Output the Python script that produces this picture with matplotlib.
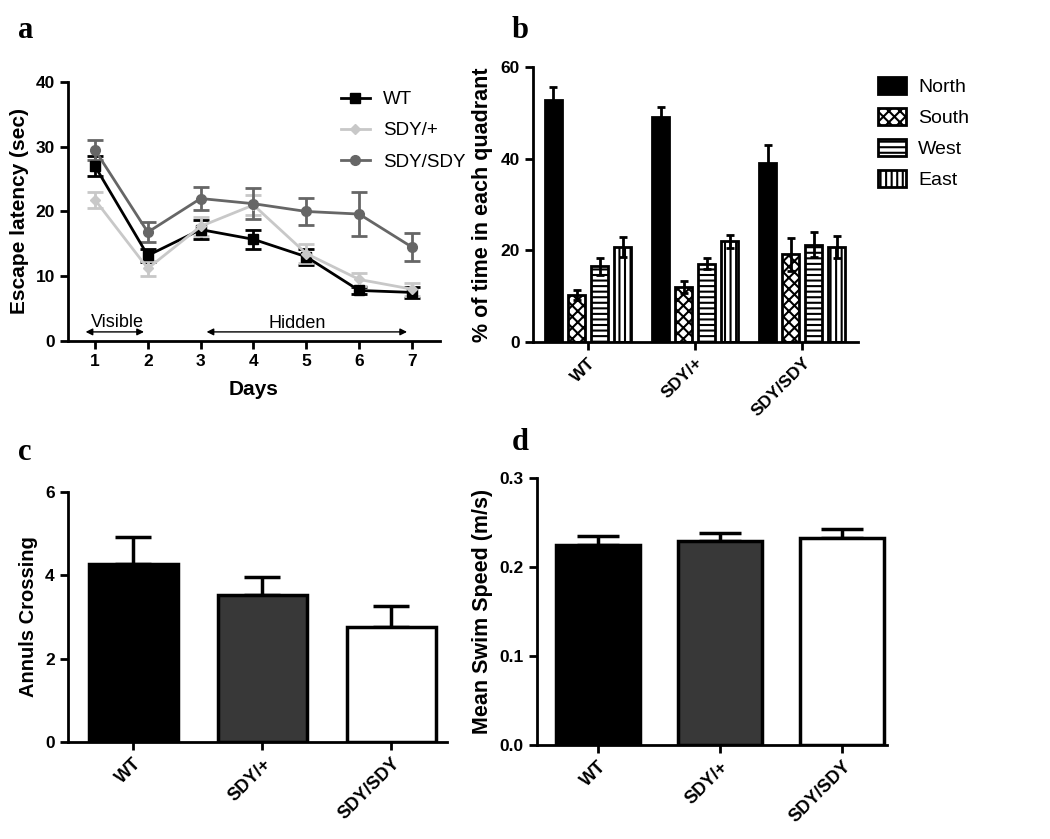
import numpy as np
import matplotlib
matplotlib.use('Agg')
import matplotlib.pyplot as plt

plt.rcParams['font.family'] = ['Liberation Sans', 'DejaVu Sans']
plt.rcParams['hatch.linewidth'] = 1.5

# panel a: escape latency over days
days = [1, 2, 3, 4, 5, 6, 7]
wt_lat = [27.0, 13.2, 17.2, 15.7, 13.0, 7.8, 7.5]
wt_lat_err = [1.5, 1.0, 1.5, 1.5, 1.2, 0.5, 0.8]
het_lat = [21.8, 11.2, 17.7, 21.0, 13.5, 9.5, 8.0]
het_lat_err = [1.2, 1.2, 1.5, 1.5, 1.5, 1.0, 1.0]
hom_lat = [29.5, 16.8, 22.0, 21.2, 20.0, 19.6, 14.5]
hom_lat_err = [1.5, 1.5, 1.8, 2.4, 2.1, 3.4, 2.2]

# panel b: quadrant time
genotypes = ['WT', 'SDY/+', 'SDY/SDY']
quadrants = ['North', 'South', 'West', 'East']
quad_time = {
    'North': [52.8, 49.1, 39.1],
    'South': [10.2, 12.0, 19.1],
    'West': [16.5, 17.1, 21.2],
    'East': [20.7, 22.0, 20.7],
}
quad_err = {
    'North': [2.8, 2.2, 3.8],
    'South': [1.1, 1.3, 3.6],
    'West': [1.8, 1.2, 2.7],
    'East': [2.2, 1.4, 2.4],
}

# panel c: annulus crossings
crossings = [4.26, 3.53, 2.75]
crossings_err = [0.66, 0.42, 0.51]

# panel d: swim speed
speed = [0.2252, 0.229, 0.233]
speed_err = [0.0093, 0.0093, 0.0101]

fig = plt.figure(figsize=(10.5, 8.39), dpi=100)


def style_axes(ax, xsize=12):
    for s in ['top', 'right']:
        ax.spines[s].set_visible(False)
    for s in ['left', 'bottom']:
        ax.spines[s].set_linewidth(2)
    ax.tick_params(direction='out', length=6, width=2, labelsize=12.5)
    for lab in ax.get_yticklabels():
        lab.set_fontweight('bold')
    for lab in ax.get_xticklabels():
        lab.set_fontweight('bold')
        lab.set_fontsize(xsize)


def panel_letter(x, y, s):
    fig.text(x, y, s, family='Liberation Serif', fontweight='bold', fontsize=22,
             ha='left', va='center')


# ---- a
ax = fig.add_axes([0.0648, 0.5936, 0.3542, 0.3087])
lines = [
    ('WT', wt_lat, wt_lat_err, 'black', 's'),
    ('SDY/+', het_lat, het_lat_err, '#c8c8c8', 'D'),
    ('SDY/SDY', hom_lat, hom_lat_err, '#666666', 'o'),
]
handles = []
for name, vals, err, col, mk in lines:
    eb = ax.errorbar(days, vals, yerr=err, color=col, marker=mk,
                     markersize=7 if mk != 'D' else 5.5,
                     lw=2, elinewidth=2, capsize=6, capthick=2, label=name)
    handles.append(eb[0])
ax.set_xlim(0.49, 7.53)
ax.set_ylim(0, 40)
ax.set_xticks(days)
ax.set_yticks([0, 10, 20, 30, 40])
style_axes(ax, xsize=12.5)
ax.set_xlabel('Days', fontsize=15, fontweight='bold', labelpad=8)
ax.set_ylabel('Escape latency (sec)', fontsize=15, fontweight='bold', labelpad=5)
ax.annotate('', xy=(0.77, 1.4), xytext=(1.98, 1.4),
            arrowprops=dict(arrowstyle='<|-|>', color='black', lw=1, mutation_scale=10))
ax.annotate('', xy=(3.06, 1.4), xytext=(6.96, 1.4),
            arrowprops=dict(arrowstyle='<|-|>', color='black', lw=1, mutation_scale=10))
ax.text(1.42, 2.9, 'Visible', ha='center', va='center', fontsize=13)
ax.text(4.82, 2.7, 'Hidden', ha='center', va='center', fontsize=13)
ax.legend(handles=handles, labels=[l[0] for l in lines], loc='upper left',
          bbox_to_anchor=(0.735, 0.965), frameon=False, fontsize=13.5,
          handlelength=1.5, handletextpad=0.7, labelspacing=0.75, borderaxespad=0,
          borderpad=0)
panel_letter(0.017, 0.964, 'a')

# ---- b
ax = fig.add_axes([0.5076, 0.5924, 0.3095, 0.3276])
x = np.arange(len(genotypes))
step = 0.215
width = 0.155
styles = {
    'North': dict(color='black', hatch=None),
    'South': dict(color='white', hatch='xxx'),
    'West': dict(color='white', hatch='---'),
    'East': dict(color='white', hatch='|||'),
}
for i, q in enumerate(quadrants):
    pos = x + (i - 1.5) * step
    ax.bar(pos, quad_time[q], width, color=styles[q]['color'], hatch=styles[q]['hatch'],
           edgecolor='black', linewidth=2, label=q, zorder=2)
    ax.errorbar(pos, quad_time[q], yerr=quad_err[q], fmt='none', ecolor='black',
                elinewidth=2, capsize=3, capthick=2, zorder=3)
ax.set_xlim(-0.514, 2.52)
ax.set_ylim(0, 60)
ax.set_yticks([0, 20, 40, 60])
ax.set_xticks(x)
ax.set_xticklabels(genotypes, rotation=45, ha='right', rotation_mode='anchor')
style_axes(ax, xsize=12.5)
ax.set_ylabel('% of time in each quadrant', fontsize=15.5, fontweight='bold', labelpad=5)
ax.legend(loc='upper left', bbox_to_anchor=(1.062, 0.965), frameon=False, fontsize=14,
          handlelength=1.45, handleheight=0.95, handletextpad=0.6, labelspacing=0.62,
          borderaxespad=0, borderpad=0)
panel_letter(0.487, 0.964, 'b')


def simple_bars(rect, vals, err, ylim, yticks, ylabel, xlim, cap, ysize, fmt=None):
    ax = fig.add_axes(rect)
    xs = np.arange(len(genotypes))
    ax.bar(xs, vals, 0.69, color=['black', '#383838', 'white'], edgecolor='black',
           linewidth=2.5, zorder=2)
    ax.errorbar(xs, vals, yerr=[np.zeros(len(err)), err], fmt='none', ecolor='black',
                elinewidth=2.5, capsize=cap, capthick=2.5, zorder=1)
    ax.set_xlim(*xlim)
    ax.set_ylim(*ylim)
    ax.set_yticks(yticks)
    if fmt:
        ax.set_yticklabels([fmt % t for t in yticks])
    ax.set_xticks(xs)
    ax.set_xticklabels(genotypes, rotation=45, ha='right', rotation_mode='anchor')
    style_axes(ax, xsize=13)
    ax.set_ylabel(ylabel, fontsize=ysize, fontweight='bold', labelpad=5)
    return ax


# ---- c
simple_bars([0.0648, 0.1156, 0.3609, 0.298], crossings, crossings_err, (0, 6), [0, 2, 4, 6],
            'Annuls Crossing', (-0.504, 2.434), 13, 14.5)
panel_letter(0.017, 0.461, 'c')

# ---- d
simple_bars([0.5114, 0.112, 0.3334, 0.3183], speed, speed_err, (0, 0.3), [0, 0.1, 0.2, 0.3],
            'Mean Swim Speed (m/s)', (-0.5, 2.37), 15, 15.5, fmt='%.1f')
panel_letter(0.487, 0.472, 'd')

fig.savefig('out.png', dpi=100)
